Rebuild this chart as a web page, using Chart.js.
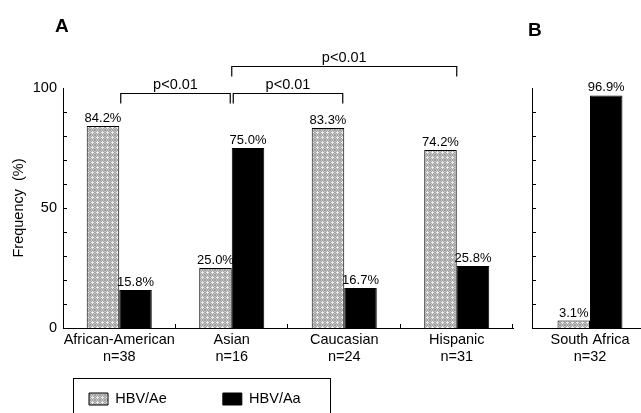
<!DOCTYPE html>
<html><head><meta charset="utf-8">
<script src="https://cdn.jsdelivr.net/npm/chart.js@4.4.0/dist/chart.umd.min.js"></script>
<style>
html,body{margin:0;padding:0;overflow:hidden;background:#fff;width:641px;height:413px;}
#c1{position:absolute;left:0;top:0;}
#c2{position:absolute;left:460px;top:0;}
</style></head><body>
<canvas id="c1" width="641" height="413"></canvas>
<canvas id="c2" width="200" height="413"></canvas>
<script>
// ---- data ----
const categoriesA = [['African-American','n=38'],['Asian','n=16'],['Caucasian','n=24'],['Hispanic','n=31']];
const aeA = [84.2, 25.0, 83.3, 74.2];
const aaA = [15.8, 75.0, 16.7, 25.8];
const categoriesB = [['South Africa','n=32']];
const aeB = [3.1];
const aaB = [96.9];
const seriesNames = ['HBV/Ae', 'HBV/Aa'];
const yTickLabelsA = [0, 50, 100];
const yTickLabelsB = [];
const brackets = [
  {from: 0, to: 1, text: 'p<0.01', level: 0},
  {from: 1, to: 2, text: 'p<0.01', level: 0},
  {from: 1, to: 3, text: 'p<0.01', level: 1}
];
const yTitle = 'Frequency  (%)';

// ---- styles ----
const FONT = '"Liberation Sans", Arial, Helvetica, sans-serif';
Chart.defaults.font.family = FONT;
Chart.defaults.color = '#000';
Chart.defaults.animation = false;

function makePattern() {
  const c = document.createElement('canvas');
  c.width = 5; c.height = 5;
  const g = c.getContext('2d');
  for (let i = 0; i < 5; i++) for (let j = 0; j < 5; j++) {
    g.fillStyle = ((i + j) % 2 === 0) ? '#a0a0a0' : '#c4c4c4';
    g.fillRect(i, j, 1, 1);
  }
  g.fillStyle = '#eeeeee';
  [[2,2],[1,2],[3,2],[2,1],[2,3]].forEach(p => g.fillRect(p[0], p[1], 1, 1));
  return g.createPattern(c, 'repeat');
}
const aePattern = makePattern();

const X_AXIS_H = 40;
const LEG_FONT = 14.5, LEG_PAD = 56, LEG_BOX_H = 12;

const tickMarks = {
  id: 'tickMarks',
  afterDraw(chart) {
    const {ctx, chartArea: a, scales: {x, y}} = chart;
    ctx.save();
    ctx.strokeStyle = '#000'; ctx.lineWidth = 1;
    ctx.beginPath();
    y.ticks.forEach(t => {
      if (t.value > y.min && t.value < y.max) {
        const py = Math.round(y.getPixelForValue(t.value)) + 0.5;
        ctx.moveTo(a.left, py); ctx.lineTo(a.left + 4, py);
      }
    });
    const n = chart.data.labels.length;
    const w = (a.right - a.left) / n;
    for (let i = 0; i < n; i++) {
      const px = Math.round(x.getPixelForValue(i) + w / 2) - 0.5;
      ctx.moveTo(px, a.bottom); ctx.lineTo(px, a.bottom - 4);
    }
    ctx.stroke();
    ctx.restore();
  }
};

const valueLabels = {
  id: 'valueLabels',
  afterDatasetsDraw(chart) {
    const ctx = chart.ctx;
    ctx.save();
    ctx.font = '13px ' + FONT;
    ctx.fillStyle = '#000';
    ctx.textAlign = 'center';
    ctx.textBaseline = 'alphabetic';
    chart.data.datasets.forEach((ds, di) => {
      chart.getDatasetMeta(di).data.forEach((bar, i) => {
        ctx.fillText(ds.data[i].toFixed(1) + '%', bar.x, bar.y - 4);
      });
    });
    ctx.restore();
  }
};

const panelLetter = {
  id: 'panelLetter',
  afterDraw(chart, args, opts) {
    const ctx = chart.ctx, a = chart.chartArea;
    ctx.save();
    ctx.font = 'bold 19px ' + FONT;
    ctx.fillStyle = '#000';
    ctx.textAlign = 'left';
    ctx.textBaseline = 'alphabetic';
    ctx.fillText(opts.text, a.left + opts.dx, a.top + opts.dy);
    ctx.restore();
  }
};

const bracketPlugin = {
  id: 'brackets',
  afterDraw(chart) {
    const {ctx, scales: {x, y}} = chart;
    const levelValues = [98, 109];
    const leg = 10;
    ctx.save();
    ctx.strokeStyle = '#000'; ctx.lineWidth = 1.2;
    ctx.fillStyle = '#000';
    ctx.font = '14.5px ' + FONT;
    ctx.textAlign = 'center'; ctx.textBaseline = 'alphabetic';
    brackets.forEach(b => {
      let x1 = x.getPixelForValue(b.from), x2 = x.getPixelForValue(b.to);
      if (b.level === 0) { x1 += 1.5; x2 -= 1.5; }
      const py = Math.round(y.getPixelForValue(levelValues[b.level])) + 0.5;
      ctx.beginPath();
      ctx.moveTo(x1, py + leg); ctx.lineTo(x1, py); ctx.lineTo(x2, py); ctx.lineTo(x2, py + leg);
      ctx.stroke();
      ctx.fillText(b.text, (x1 + x2) / 2, py - 5);
    });
    ctx.restore();
  }
};

const legendPlace = {
  id: 'legendPlace',
  afterLayout(chart) {
    const lg = chart.legend;
    if (!lg || !lg.options.display) return;
    lg.left = 33; lg.right = 641;
    lg.top = 335.75; lg.bottom = 413;
    lg.width = lg.right - lg.left; lg.height = lg.bottom - lg.top;
  },
  afterDraw(chart) {
    const lg = chart.legend;
    if (!lg || !lg.options.display) return;
    const ctx = chart.ctx;
    ctx.save();
    ctx.strokeStyle = '#000'; ctx.lineWidth = 1;
    ctx.strokeRect(73.5, 378.5, 257, 60);
    ctx.restore();
  }
};

function yScale(labels, withTitle, width) {
  return {
    min: 0, max: 100,
    afterFit(s) { s.width = width; },
    ticks: {
      stepSize: 10, padding: 6, display: labels.length > 0,
      font: {size: 14.5}, color: '#000',
      callback: v => labels.includes(v) ? String(v) : ''
    },
    grid: {display: false, drawTicks: false},
    border: {display: true, color: '#000', width: 1},
    title: {display: withTitle, text: yTitle, font: {size: 14.5}, color: '#000', padding: {top: 10, bottom: 0}}
  };
}
function xScale(height) {
  return {
    type: 'category', offset: true,
    afterFit(s) { s.height = height; },
    ticks: {font: {size: 14.5, lineHeight: 1.15}, color: '#000', padding: 4, maxRotation: 0, autoSkip: false},
    grid: {display: false, drawTicks: false},
    border: {display: true, color: '#000', width: 1}
  };
}

new Chart(document.getElementById('c1'), {
  type: 'bar',
  data: {
    labels: categoriesA,
    datasets: [
      {label: seriesNames[0], data: aeA, backgroundColor: aePattern, borderColor: '#000', borderWidth: 1,
       categoryPercentage: 0.578, barPercentage: 1},
      {label: seriesNames[1], data: aaA, backgroundColor: '#000', borderColor: '#000', borderWidth: 1,
       categoryPercentage: 0.578, barPercentage: 1}
    ]
  },
  options: {
    responsive: false,
    layout: {padding: {left: 0, right: 128, top: 88, bottom: 0}},
    scales: {x: xScale(X_AXIS_H), y: yScale(yTickLabelsA, true, 63)},
    plugins: {
      legend: {
        display: true, position: 'bottom', align: 'start',
        maxHeight: 413 - 328 - X_AXIS_H,
        labels: {boxWidth: 19, boxHeight: LEG_BOX_H, padding: LEG_PAD, font: {size: LEG_FONT}, color: '#000'}
      },
      tooltip: {enabled: false},
      panelLetter: {text: 'A', dx: -8, dy: -56}
    }
  },
  plugins: [tickMarks, valueLabels, panelLetter, bracketPlugin, legendPlace]
});

new Chart(document.getElementById('c2'), {
  type: 'bar',
  data: {
    labels: categoriesB,
    datasets: [
      {label: seriesNames[0], data: aeB, backgroundColor: aePattern, borderColor: '#000', borderWidth: 1,
       categoryPercentage: 0.56, barPercentage: 1},
      {label: seriesNames[1], data: aaB, backgroundColor: '#000', borderColor: '#000', borderWidth: 1,
       categoryPercentage: 0.56, barPercentage: 1}
    ]
  },
  options: {
    responsive: false,
    layout: {padding: {left: 0, right: 12, top: 88, bottom: 0}},
    scales: {x: xScale(413 - 328), y: yScale(yTickLabelsB, false, 72)},
    plugins: {
      legend: {display: false},
      tooltip: {enabled: false},
      panelLetter: {text: 'B', dx: -4, dy: -52}
    }
  },
  plugins: [tickMarks, valueLabels, panelLetter]
});
</script>
</body></html>
